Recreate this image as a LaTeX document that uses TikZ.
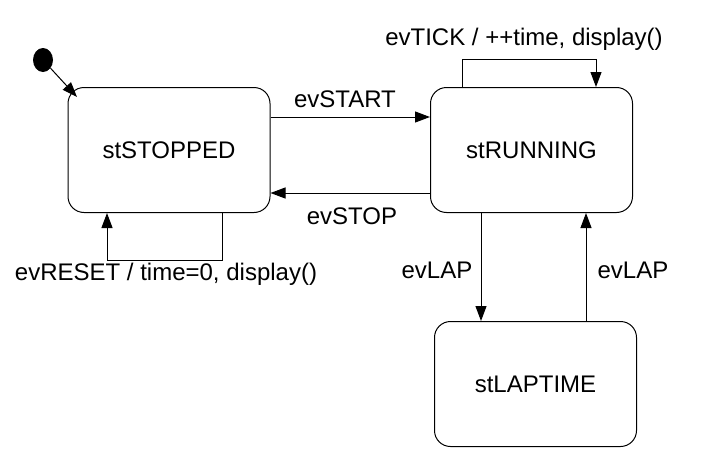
\documentclass[tikz,border=0pt]{standalone}
\usepackage{fontspec}
\setmainfont{Liberation Sans}
\usetikzlibrary{arrows.meta,shapes.geometric}
\begin{document}
\begin{tikzpicture}[x=1pt,y=-1pt,
  state/.style={draw,line width=1pt,rounded corners=16pt,minimum width=202pt,minimum height=125pt,inner sep=0pt,font=\fontsize{24}{28}\selectfont},
  lbl/.style={font=\fontsize{24}{28}\selectfont,inner sep=0pt},
  conn/.style={line width=1pt,-{Triangle[length=15pt,width=11pt]}},
  plain/.style={line width=1pt}]
\useasboundingbox (0,0) rectangle (717,455);
\node[state] (stop) at (169,150) {stSTOPPED};
\node[state] (run) at (531.5,150) {stRUNNING};
\node[state] (lap) at (535.5,384) {stLAPTIME};
\node[ellipse,fill=black,minimum width=20pt,minimum height=24pt,inner sep=0pt] (init) at (43,60) {};
\coordinate (initend) at (77,97);
\draw[conn] (init) -- (initend);
% evSTART / evSTOP
\draw[conn] (stop.east |- 0,117) -- (run.west |- 0,117);
\draw[conn] (run.west |- 0,193) -- (stop.east |- 0,193);
\node[lbl] (lstart) at (345,99) {evSTART};
\node[lbl] (lstop) at (352,216) {evSTOP};
% evTICK loop
\draw[conn] (run.north -| 462,0) -- (462,59) -- (596,59) -- (run.north -| 596,0);
\node[lbl] (ltick) at (524,39) {evTICK / ++time, display()};
% evRESET loop
\draw[conn] (stop.south -| 222,0) -- (222,260) -- (107,260) -- (stop.south -| 107,0);
\node[lbl] (lreset) at (166,274) {evRESET / time=0, display()};
% evLAP
\draw[conn] (run.south -| 481,0) -- (lap.north -| 481,0);
\draw[conn] (lap.north -| 586,0) -- (run.south -| 586,0);
\node[lbl] (llap1) at (437,270) {evLAP};
\node[lbl] (llap2) at (633,270) {evLAP};
\end{tikzpicture}
\end{document}
